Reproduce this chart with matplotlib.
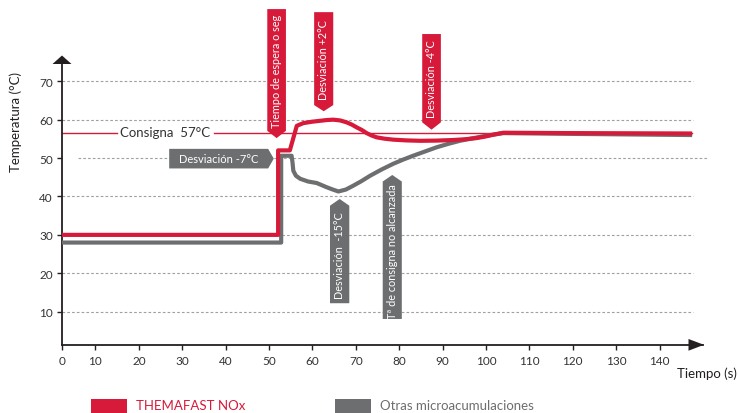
import matplotlib
matplotlib.use('Agg')
import matplotlib.pyplot as plt
from matplotlib.patches import Polygon, Rectangle

plt.rcParams['font.family'] = ['Lato', 'DejaVu Sans']

RED = '#d7193a'
GRAY = '#6d6e70'
DARK = '#231f20'
TXT = '#333333'
GRID = '#a0a0a0'

# ---------------- data ----------------
series_names = ['THEMAFAST NOx', 'Otras microacumulaciones']
red_x = [0, 52.1, 52.1, 54.8, 56.4, 57.9, 59.8, 61.7, 63.3, 64.8, 66.4, 67.9, 69.1,
         70.2, 71.4, 72.5, 73.6, 74.8, 76.6, 78.6, 81.7, 84.8, 88.6, 92.4, 95.2,
         97.8, 99.8, 101.7, 104.0, 120.0, 147.5]
red_y = [30, 30, 52, 52, 58.4, 59.1, 59.45, 59.7, 59.9, 60.0, 59.8, 59.3, 58.7,
         58.0, 57.3, 56.5, 55.9, 55.4, 55.05, 54.8, 54.6, 54.5, 54.55, 54.7, 54.9,
         55.2, 55.6, 56.1, 56.6, 56.5, 56.4]
gray_x = [0, 52.8, 52.8, 55.2, 55.4, 55.6, 56.2, 57.2, 59.0, 61.0, 63.3, 64.7, 66.0,
          67.7, 69.4, 71.3, 73.3, 75.9, 78.6, 80.9, 83.2, 85.9, 88.6, 91.3, 94.0,
          96.7, 99.4, 101.7, 104.0, 120.0, 147.5]
gray_y = [28, 28, 50.6, 50.6, 49.0, 46.7, 45.4, 44.6, 43.9, 43.5, 42.4, 41.8, 41.3,
          41.8, 42.8, 44.0, 45.4, 47.0, 48.5, 49.6, 50.6, 51.7, 52.8, 53.7, 54.5,
          55.1, 55.7, 56.1, 56.5, 56.3, 56.0]
setpoint = 56.4
setpoint_label = 'Consigna  57°C'
x_ticks = [2.3, 10, 20, 30, 40, 50, 60, 70, 80, 90, 100, 110, 120, 130, 140]
x_tick_labels = ['0', '10', '20', '30', '40', '50', '60', '70', '80', '90',
                 '100', '110', '120', '130', '140']
y_ticks = [10, 20, 30, 40, 50, 60, 70]
y_tick_labels = ['10', '20', '30', '40', '50', '60', '70']
callout_texts = ['Tiempo de espera o seg', 'Desviación +2°C', 'Desviación -4°C',
                 'Desviación -7°C', 'Desviación  -15°C', 'Tª de consigna no alcanzada']

# ---------------- layout ----------------
W, H = 738, 414
fig = plt.figure(figsize=(W / 100, H / 100), dpi=100)
AX_L, AX_R, AX_T, AX_B = 62, 703, 60, 345.7
ax = fig.add_axes([AX_L / W, 1 - AX_B / H, (AX_R - AX_L) / W, (AX_B - AX_T) / H])
ax.set_xlim(2.3, 150)
ax.set_ylim(1.4, 75.8)

for s in ['top', 'right']:
    ax.spines[s].set_visible(False)
for s in ['left', 'bottom']:
    ax.spines[s].set_color(DARK)
    ax.spines[s].set_linewidth(1.3)

ax.set_xticks(x_ticks)
ax.set_xticklabels(x_tick_labels)
ax.set_yticks(y_ticks)
ax.set_yticklabels(y_tick_labels)
ax.tick_params(axis='both', length=3.6, width=1, color=DARK, labelsize=8.5,
               labelcolor=TXT, pad=3)
ax.tick_params(axis='x', pad=4)


def axfrac(px, py):
    return ((px - AX_L) / (AX_R - AX_L), (AX_B - py) / (AX_B - AX_T))


# arrows
ax.add_patch(Polygon([axfrac(62, 56.5), axfrac(52.5, 65), axfrac(71.5, 65)],
                     closed=True, transform=ax.transAxes, clip_on=False,
                     facecolor=DARK, edgecolor='none', zorder=5))
ax.add_patch(Polygon([axfrac(704, 345.8), axfrac(688.5, 340), axfrac(688.5, 351.7)],
                     closed=True, transform=ax.transAxes, clip_on=False,
                     facecolor=DARK, edgecolor='none', zorder=5))

# grid lines
for y in y_ticks:
    if y == 50:
        x0, x1 = 6.0, 151.1
    else:
        x0, x1 = 2.3, 147.7
    ax.plot([x0, x1], [y, y], color=GRID, lw=0.8, ls=(0, (2.4, 1.9)),
            clip_on=False, zorder=1)

# setpoint line with label gap
ax.plot([2.3, 15.0], [setpoint, setpoint], color=RED, lw=1.0, zorder=2)
ax.plot([37.3, 147.5], [setpoint, setpoint], color=RED, lw=1.0, zorder=2)
ax.text(26.15, setpoint + 0.4, setpoint_label, ha='center', va='center',
        fontsize=9.5, color=TXT, zorder=3)

# series
ax.plot(gray_x, gray_y, color=GRAY, lw=3.0, solid_joinstyle='round',
        solid_capstyle='butt', zorder=3)
ax.plot(red_x, red_y, color=RED, lw=3.0, solid_joinstyle='round',
        solid_capstyle='butt', zorder=4)


def vbanner(x0, x1, y_far, y_rect, y_tip, color, text):
    xm = (x0 + x1) / 2
    pts = [(x0, y_far), (x1, y_far), (x1, y_rect), (xm, y_tip), (x0, y_rect)]
    ax.add_patch(Polygon(pts, closed=True, facecolor=color, edgecolor='none',
                         clip_on=False, zorder=6))
    ax.text(xm, (y_far + y_rect) / 2, text, rotation=90, ha='center', va='center',
            color='white', fontsize=7.8, zorder=7, clip_on=False)


def hbanner(x0, x1, x_tip, y0, y1, color, text):
    ym = (y0 + y1) / 2
    pts = [(x0, y0), (x1, y0), (x_tip, ym), (x1, y1), (x0, y1)]
    ax.add_patch(Polygon(pts, closed=True, facecolor=color, edgecolor='none',
                         clip_on=False, zorder=6))
    ax.text((x0 + x1) / 2, ym, text, ha='center', va='center', color='white',
            fontsize=8, zorder=7)


vbanner(49.6, 53.9, 88.8, 57.1, 55.2, RED, callout_texts[0])
vbanner(60.4, 64.8, 88.0, 63.8, 62.2, RED, callout_texts[1])
vbanner(85.3, 89.6, 82.3, 59.3, 57.4, RED, callout_texts[2])
hbanner(27.0, 49.8, 51.1, 47.3, 52.4, GRAY, callout_texts[3])
vbanner(64.05, 68.5, 12.2, 37.6, 39.35, GRAY, callout_texts[4])
vbanner(76.2, 80.6, 8.1, 43.9, 45.6, GRAY, callout_texts[5])

# axis titles
fig.text(16 / W, 1 - 122.5 / H, 'Temperatura (°C)', rotation=90, ha='center',
         va='center', fontsize=9.5, color=DARK)
fig.text(677 / W, 1 - 374 / H, 'Tiempo (s)', ha='left', va='center',
         fontsize=9.5, color=DARK)

# legend
for (rx0, rx1, tx, col, name) in [(91, 127, 136, RED, series_names[0]),
                                  (335, 371, 380, GRAY, series_names[1])]:
    fig.patches.append(Rectangle((rx0 / W, 0), (rx1 - rx0) / W, (414 - 400) / H,
                                 transform=fig.transFigure, facecolor=col,
                                 edgecolor='none'))
    fig.text(tx / W, 1 - 406.5 / H, name, ha='left', va='center', fontsize=9.5,
             color=col)

fig.savefig('out.png', dpi=100)
